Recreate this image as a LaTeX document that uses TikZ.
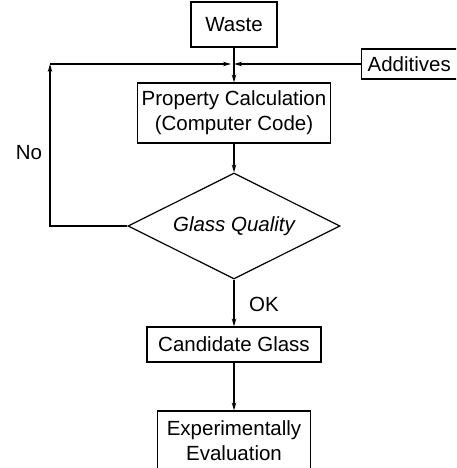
\documentclass[tikz,border=0pt]{standalone}
\usepackage{fontspec}
\setmainfont{Liberation Sans}
\usetikzlibrary{arrows.meta,shapes.geometric}
\begin{document}
\begin{tikzpicture}[x=1pt,y=-1pt,
  every node/.style={font=\fontsize{20.5}{25}\selectfont},
  box/.style={draw,line width=1.2pt,rectangle,inner sep=0pt,align=center},
  dia/.style={draw,line width=1.2pt,diamond,shape aspect=2,inner sep=0pt,minimum width=212pt,minimum height=106pt},
  lbl/.style={inner sep=0pt},
  conn/.style={line width=1.2pt,-{Stealth[length=8pt,width=4.5pt]}}]
\useasboundingbox (0,0) rectangle (456,468);
\clip (0,0) rectangle (456,468);
\node[box,minimum width=86pt,minimum height=45pt] (waste) at (234,24.5) {Waste};
\node[box,anchor=west,text width=97pt,inner xsep=6pt,align=left,minimum height=30pt] (add) at (361,64) {Additives};
\node[box,minimum width=193pt,minimum height=60pt] (prop) at (234,113) {Property Calculation\\(Computer Code)};
\node[dia] (gq) at (234,226) {\itshape Glass Quality};
\node[box,minimum width=174pt,minimum height=35pt] (cand) at (234,344.5) {Candidate Glass};
\node[box,minimum width=153pt,minimum height=60pt] (eval) at (234,441) {Experimentally\\Evaluation};
\coordinate (J) at (234,64);
\coordinate (C) at (50,64);
\node[lbl] (no) at (29,153) {No};
\node[lbl,anchor=west] (ok) at (249,304) {OK};
\draw[conn] (waste.south) -- (prop.north);
\draw[conn] (add.west) -- (J);
\draw[conn] (gq.west) -| (C);
\draw[conn,shorten >=3pt] (C) -- (J);
\draw[conn] (prop.south) -- (gq.north);
\draw[conn] (gq.south) -- (cand.north);
\draw[conn] (cand.south) -- (eval.north);
\end{tikzpicture}
\end{document}
